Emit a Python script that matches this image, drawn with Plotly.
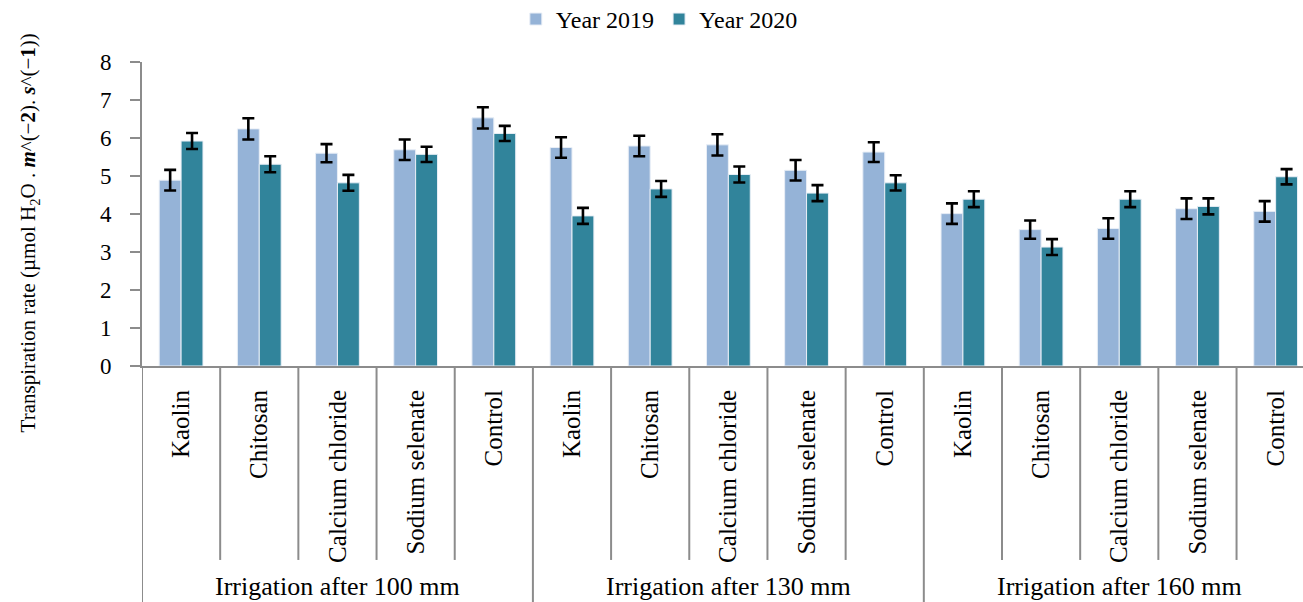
import plotly.graph_objects as go

groups = ["Irrigation after 100 mm", "Irrigation after 130 mm", "Irrigation after 160 mm"]
treatments = ["Kaolin", "Chitosan", "Calcium chloride", "Sodium selenate", "Control"]

y2019 = [4.89, 6.24, 5.60, 5.69, 6.53,
         5.75, 5.79, 5.82, 5.15, 5.63,
         4.01, 3.59, 3.62, 4.14, 4.07]
e2019 = [0.27, 0.28, 0.24, 0.27, 0.28,
         0.27, 0.27, 0.28, 0.27, 0.26,
         0.27, 0.24, 0.27, 0.27, 0.27]
y2020 = [5.92, 5.31, 4.82, 5.57, 6.12,
         3.95, 4.66, 5.04, 4.55, 4.82,
         4.39, 3.13, 4.39, 4.20, 4.98]
e2020 = [0.21, 0.21, 0.21, 0.20, 0.20,
         0.21, 0.21, 0.21, 0.21, 0.20,
         0.21, 0.21, 0.21, 0.21, 0.20]

series_names = ["Year 2019", "Year 2020"]
series_colors = ["#95B3D7", "#31849B"]
y_title = ("Transpiration rate (µmol H<sub>2</sub>O . <b><i>m</i></b>^(−<b>2</b>). "
           "<b><i>s</i></b>^(−<b>1</b>))")

labels = [t for g in groups for t in treatments]
xs = list(range(len(labels)))

FONT = "Liberation Serif, Times New Roman, serif"
fig = go.Figure()
for name, vals, errs, col in zip(series_names, [y2019, y2020], [e2019, e2020], series_colors):
    fig.add_trace(go.Bar(
        x=xs, y=vals, name=name,
        marker=dict(color=col, line=dict(color="#E8EEF6", width=1)),
        error_y=dict(type="data", array=errs, visible=True, color="black", thickness=2.6, width=6),
    ))

shapes = []
ntr = len(treatments)
for i in range(len(labels) + 1):
    xb = i - 0.5
    y0 = -0.85 if i % ntr == 0 else -0.638
    shapes.append(dict(type="line", xref="x", yref="paper", x0=xb, x1=xb, y0=0, y1=y0,
                       line=dict(color="#8C8C8C", width=2)))

annotations = []
for gi, g in enumerate(groups):
    annotations.append(dict(x=gi * ntr + (ntr - 1) / 2, y=-0.724, xref="x", yref="paper",
                            text=g, showarrow=False, yanchor="middle",
                            font=dict(family=FONT, size=26, color="black")))
annotations.append(dict(x=-0.097, y=0.4375, xref="paper", yref="paper", text=y_title,
                        textangle=-90, showarrow=False, xanchor="center", yanchor="middle",
                        font=dict(family=FONT, size=21, color="black")))

fig.update_layout(
    width=1303, height=602,
    margin=dict(l=142, r=0, t=62, b=236, autoexpand=False),
    paper_bgcolor="white", plot_bgcolor="white",
    barmode="group", bargap=0.44, bargroupgap=0,
    font=dict(family=FONT, color="black"),
    showlegend=True,
    legend=dict(orientation="h", x=0.322, y=1.14, xanchor="left", yanchor="middle",
                font=dict(family=FONT, size=24), itemwidth=30, traceorder="normal"),
    shapes=shapes, annotations=annotations,
    xaxis=dict(range=[-0.5, 14.35], tickmode="array", tickvals=xs, ticktext=labels,
               tickangle=-90, ticks="", showline=True, linecolor="#8C8C8C", linewidth=2,
               tickfont=dict(family=FONT, size=25, color="black"), ticklabelstandoff=12,
               showgrid=False, zeroline=False, automargin=False),
    yaxis=dict(range=[0, 8], dtick=1, ticks="outside", ticklen=10, tickcolor="#8C8C8C",
               tickwidth=2, showline=True, linecolor="#8C8C8C", linewidth=2,
               tickfont=dict(family=FONT, size=23, color="black"), ticklabelstandoff=14,
               showgrid=False, zeroline=False, automargin=False),
)

fig.write_html("out.html", config={"displayModeBar": False},
               post_script="document.body.style.margin='0px';document.body.style.overflow='hidden';")
